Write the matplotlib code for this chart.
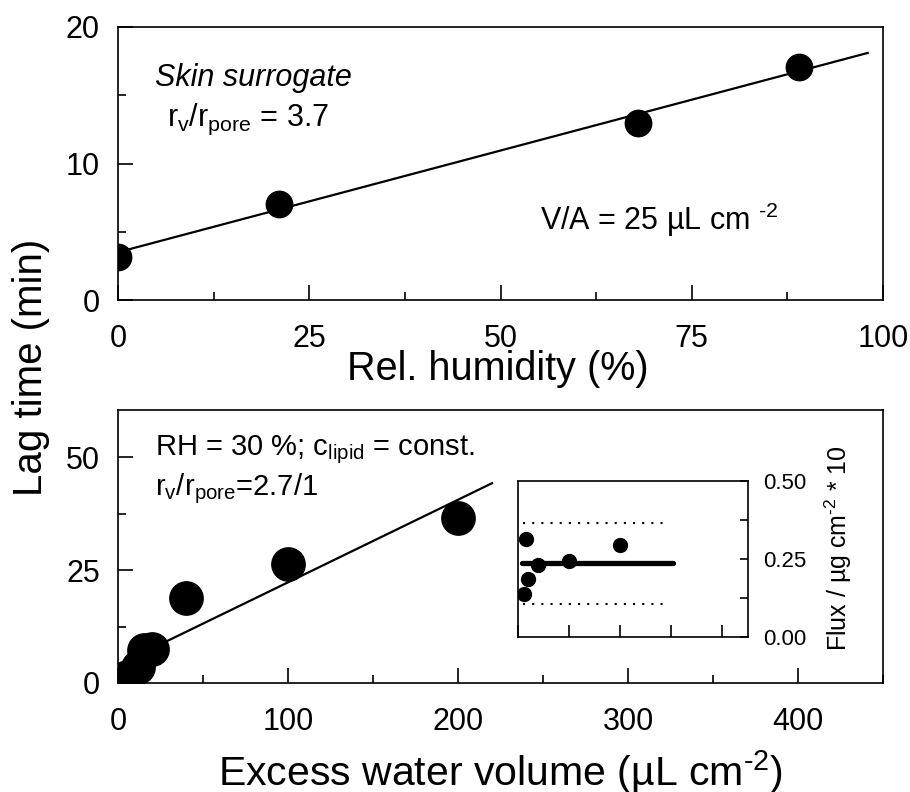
import matplotlib
matplotlib.use('Agg')
import matplotlib.pyplot as plt
from matplotlib.ticker import MultipleLocator, FormatStrFormatter

plt.rcParams['font.family'] = ['Liberation Sans', 'DejaVu Sans']
plt.rcParams['mathtext.fontset'] = 'custom'
plt.rcParams['mathtext.rm'] = 'Liberation Sans'
plt.rcParams['mathtext.it'] = 'Liberation Sans:italic'
plt.rcParams['mathtext.bf'] = 'Liberation Sans:bold'

# top panel: lag time vs relative humidity
rh = [0, 21, 68, 89]
lag_rh = [3.15, 7.0, 13.0, 17.1]
rh_fit_x = [0, 98]
rh_fit_y = [3.5, 18.1]

# bottom panel: lag time vs excess water volume
vol = [2, 5, 12, 15, 20, 40, 100, 200]
lag_vol = [0.5, 1.4, 3.5, 7.2, 7.6, 18.8, 26.3, 36.6]
vol_fit_x = [0, 220]
vol_fit_y = [4.0, 44.2]

# inset: flux vs excess water volume
flux_x = [12, 15, 20, 40, 100, 200]
flux_y = [0.139, 0.315, 0.187, 0.232, 0.245, 0.294]
flux_mean_x = [8, 303]
flux_mean_y = [0.237, 0.237]
flux_band_x = [10, 288]
flux_upper = [0.365, 0.365]
flux_lower = [0.106, 0.106]

W, H = 910, 792
fig = plt.figure(figsize=(W / 100, H / 100), dpi=100)


def frac(x0, y0, x1, y1):
    return [x0 / W, 1 - y1 / H, (x1 - x0) / W, (y1 - y0) / H]


def style_axes(ax):
    for s in ax.spines.values():
        s.set_linewidth(1.2)
    ax.tick_params(which='both', direction='in', top=False, right=False,
                   labelsize=22, width=1.2)
    ax.tick_params(which='major', length=11)
    ax.tick_params(which='minor', length=5.5)
    ax.tick_params(axis='x', pad=17)
    ax.tick_params(axis='y', pad=13)


ax1 = fig.add_axes(frac(118, 27, 883, 300))
ax1.plot(rh_fit_x, rh_fit_y, color='black', lw=1.6)
ax1.plot(rh, lag_rh, 'o', color='black', ms=19)
ax1.set_xlim(0, 100)
ax1.set_ylim(0, 20)
ax1.xaxis.set_major_locator(MultipleLocator(25))
ax1.xaxis.set_minor_locator(MultipleLocator(12.5))
ax1.yaxis.set_major_locator(MultipleLocator(10))
ax1.yaxis.set_minor_locator(MultipleLocator(5))
style_axes(ax1)
ax1.text(4.8, 15.7, 'Skin surrogate', fontsize=22, style='italic')
ax1.text(6.4, 12.75, r'r$_\mathregular{v}$/r$_\mathregular{pore}$ = 3.7', fontsize=22)
ax1.text(55.2, 5.1, r'V/A = 25 µL cm $^{\text{-2}}$', fontsize=22)

ax2 = fig.add_axes(frac(118, 410, 883, 683))
ax2.plot(vol_fit_x, vol_fit_y, color='black', lw=1.6)
ax2.plot(vol, lag_vol, 'o', color='black', ms=24)
ax2.set_xlim(0, 450)
ax2.set_ylim(0, 60.4)
ax2.xaxis.set_major_locator(MultipleLocator(100))
ax2.xaxis.set_minor_locator(MultipleLocator(50))
ax2.yaxis.set_major_locator(MultipleLocator(25))
ax2.yaxis.set_minor_locator(MultipleLocator(12.5))
style_axes(ax2)
ax2.text(21.8, 50.4, r'RH = 30 %; c$_\mathregular{lipid}$ = const.', fontsize=21)
ax2.text(21.8, 41.6, r'r$_\mathregular{v}$/r$_\mathregular{pore}$=2.7/1', fontsize=21)

ax3 = fig.add_axes(frac(518, 481, 748, 637))
ax3.plot(flux_band_x, flux_upper, color='black', lw=1.5, ls=(0, (1, 3.4)))
ax3.plot(flux_band_x, flux_lower, color='black', lw=1.5, ls=(0, (1, 3.4)))
ax3.plot(flux_mean_x, flux_mean_y, color='black', lw=3.8, solid_capstyle='round')
ax3.plot(flux_x, flux_y, 'o', color='black', ms=10)
ax3.set_xlim(0, 450)
ax3.set_ylim(0, 0.5)
ax3.xaxis.set_major_locator(MultipleLocator(100))
ax3.yaxis.set_major_locator(MultipleLocator(0.25))
ax3.yaxis.set_minor_locator(MultipleLocator(0.125))
ax3.yaxis.set_major_formatter(FormatStrFormatter('%.2f'))
for s in ax3.spines.values():
    s.set_linewidth(1.2)
ax3.tick_params(which='both', direction='in', width=1.2)
ax3.tick_params(axis='x', length=9, labelbottom=False)
ax3.tick_params(axis='y', which='both', left=False, labelleft=False,
                right=True, labelright=True, length=6, labelsize=16, pad=11)

fig.text(498 / W, 1 - 380 / H, 'Rel. humidity (%)', fontsize=28.5, ha='center', va='baseline')
fig.text(501 / W, 1 - 786 / H, r'Excess water volume (µL cm$^{\text{-2}}$)', fontsize=29.5,
         ha='center', va='baseline')
fig.text(31 / W, 1 - 367 / H, 'Lag time (min)', fontsize=29, rotation=90,
         ha='center', va='center')
fig.text(838 / W, 1 - 548 / H, r'Flux / µg cm$^{\text{-2}}$ * 10', fontsize=18, rotation=90,
         ha='center', va='center')

fig.savefig('out.png', dpi=100)
